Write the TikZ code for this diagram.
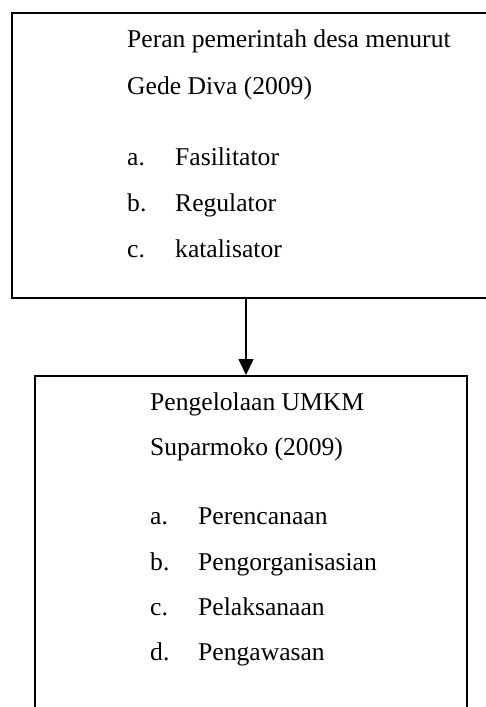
\documentclass[tikz,border=0pt]{standalone}
\usepackage{fontspec}
\setmainfont{Liberation Serif}
\usetikzlibrary{arrows.meta,positioning}

\begin{document}
\begin{tikzpicture}[x=1pt,y=-1pt,
  box/.style={draw=black,line width=1.7pt,anchor=north west,inner sep=0pt},
  txt/.style={anchor=base west,inner sep=0pt,
              font=\fontsize{25.6}{30}\selectfont},
  arrow/.style={-{Triangle[length=16pt,width=15pt]},line width=1.6pt}]
  \clip (0,0) rectangle (486,707);
  % kotak atas
  \node[box,minimum width=490pt,minimum height=285pt] (peran) at (11,12) {};
  \node[txt] (peran1) at (127,47) {Peran pemerintah desa menurut};
  \node[txt] (peran2) at (127,94) {Gede Diva (2009)};
  \node[txt] (pa) at (127,165) {a.};
  \node[txt] (pb) at (127,211) {b.};
  \node[txt] (pc) at (127,257) {c.};
  \node[txt] (pa2) at (175,165) {Fasilitator};
  \node[txt] (pb2) at (175,211) {Regulator};
  \node[txt] (pc2) at (175,257) {katalisator};
  % kotak bawah
  \node[box,minimum width=432pt,minimum height=345pt] (kelola) at (34,375) {};
  \node[txt] (kelola1) at (150,410) {Pengelolaan UMKM};
  \node[txt] (kelola2) at (150,455) {Suparmoko (2009)};
  \node[txt] (ka) at (150,524) {a.};
  \node[txt] (kb) at (150,570) {b.};
  \node[txt] (kc) at (150,615) {c.};
  \node[txt] (kd) at (150,660) {d.};
  \node[txt] (ka2) at (198,524) {Perencanaan};
  \node[txt] (kb2) at (198,570) {Pengorganisasian};
  \node[txt] (kc2) at (198,615) {Pelaksanaan};
  \node[txt] (kd2) at (198,660) {Pengawasan};
  % panah
  \coordinate (panah) at (246,0);
  \draw[arrow] (peran.south -| panah) -- (kelola.north -| panah);
\end{tikzpicture}
\end{document}
